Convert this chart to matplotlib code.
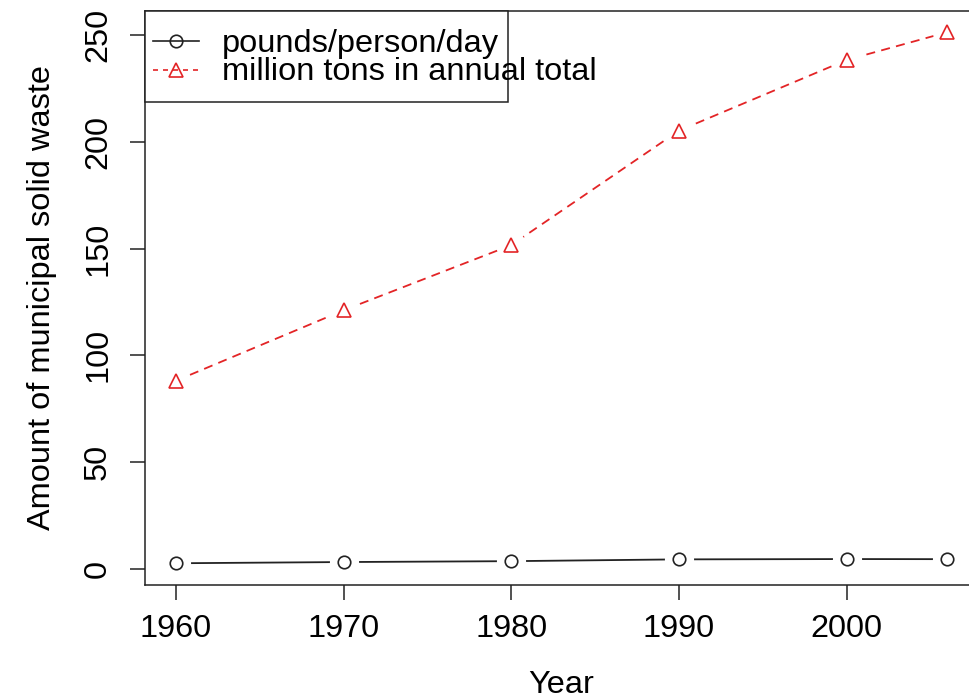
import numpy as np
import matplotlib.pyplot as plt
from matplotlib.lines import Line2D
from matplotlib.patches import Rectangle

years = [1960, 1970, 1980, 1990, 2000, 2006]
pounds_per_day = [2.68, 3.25, 3.66, 4.50, 4.65, 4.60]
million_tons = [88.1, 121.1, 151.6, 205.2, 238.3, 251.3]
labels = ['pounds/person/day', 'million tons in annual total']

RED = '#e32426'
INK = '#222222'
FS = 23.4

plt.rcParams['font.family'] = ['Liberation Sans', 'DejaVu Sans']

fig = plt.figure(figsize=(9.69, 7), dpi=100)
W, H = 969, 700
# axes box in pixels (R style, right edge runs past the image)
x0, x1, y_top, y_bot = 145, 978, 11, 584.5
ax = fig.add_axes([x0 / W, 1 - y_bot / H, (x1 - x0) / W, (y_bot - y_top) / H])

# R-like 4% axis extension
allv = pounds_per_day + million_tons
ext_x = 0.04 * (max(years) - min(years))
ext_y = 0.04 * (max(allv) - min(allv))
ax.set_xlim(min(years) - ext_x, max(years) + ext_x)
ax.set_ylim(min(allv) - ext_y, max(allv) + ext_y)

# lines first, then white halos for the R type="b" gaps, then markers
ax.plot(years, pounds_per_day, color=INK, lw=1.3, zorder=2)
ax.plot(years, million_tons, color=RED, lw=1.3, ls=(0, (5, 3.5)), zorder=2)
for ys in (pounds_per_day, million_tons):
    ax.plot(years, ys, ls='none', marker='o', ms=21, mfc='white', mec='none', zorder=3)
ax.plot(years, pounds_per_day, ls='none', marker='o', ms=9, mfc='none',
        mec=INK, mew=1.2, zorder=4)
ax.plot(years, million_tons, ls='none', marker='^', ms=10, mfc='none',
        mec=RED, mew=1.2, zorder=4)

ax.set_xticks([1960, 1970, 1980, 1990, 2000])
ax.set_yticks([0, 50, 100, 150, 200, 250])
ax.tick_params(axis='both', direction='out', length=11, width=1.1,
               labelsize=FS, color=INK)
ax.tick_params(axis='x', pad=10)
ax.tick_params(axis='y', pad=12)
for lab in ax.get_yticklabels():
    lab.set_rotation(90)
    lab.set_va('center')
for s in ax.spines.values():
    s.set_linewidth(1.1)
    s.set_color(INK)

ax.set_xlabel('Year', fontsize=FS, labelpad=19)
ax.set_ylabel('Amount of municipal solid waste', fontsize=FS, labelpad=19)

# R-style legend: the frame is narrower than the second label, as in the original
def px(x, y):
    return x / W, 1 - y / H

fig.patches.append(Rectangle(px(145, 102), (508 - 145) / W, (102 - 11) / H,
                             transform=fig.transFigure, fc='white', ec=INK,
                             lw=1.1, zorder=5))
styles = [dict(color=INK, ls='-', marker='o', ms=9, mec=INK),
          dict(color=RED, ls=(0, (3, 3)), marker='^', ms=10, mec=RED)]
for i, (lab, st) in enumerate(zip(labels, styles)):
    yc = 41 + 29 * i
    hx = [px(153, yc)[0], px(199, yc)[0]]
    hy = [px(0, yc)[1]] * 2
    fig.add_artist(Line2D(hx, hy, color=st['color'], ls=st['ls'], lw=1.2,
                          transform=fig.transFigure, zorder=6))
    fig.add_artist(Line2D([sum(hx) / 2], [hy[0]], ls='none', marker=st['marker'],
                          ms=st['ms'], mfc='none', mec=st['mec'], mew=1.2,
                          transform=fig.transFigure, zorder=7))
    fig.text(*px(222, 52 + 27.5 * i), lab, fontsize=FS, va='baseline',
             ha='left', zorder=8)

fig.savefig('out.png', dpi=100)
